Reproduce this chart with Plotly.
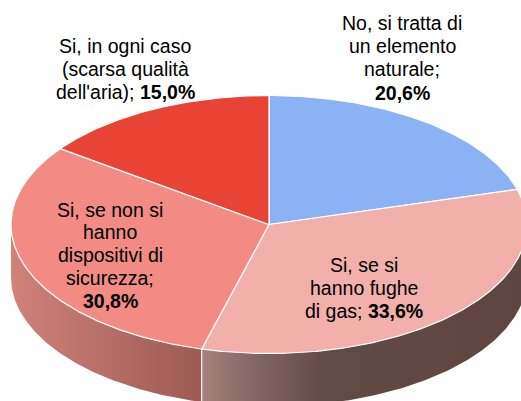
import numpy as np
import plotly.graph_objects as go

categories = ["No, si tratta di un elemento naturale", "Si, se si hanno fughe di gas",
              "Si, se non si hanno dispositivi di sicurezza", "Si, in ogni caso (scarsa qualità dell'aria)"]
values = [20.6, 33.6, 30.8, 15.0]
top_colors = ["#8AB2F5", "#F2B0AB", "#F18B83", "#E94335"]

label_lines = [
    ["No, si tratta di", "un elemento", "naturale;", "<b>20,6%</b>"],
    ["Si, se si", "hanno fughe", "di gas; <b>33,6%</b>"],
    ["Si, se non si", "hanno", "dispositivi di", "sicurezza;", "<b>30,8%</b>"],
    ["Si, in ogni caso", "(scarsa qualità", "dell'aria); <b>15,0%</b>"],
]
label_x = [402, 364, 110, 125]
label_y = [[23, 46, 69, 93], [265, 288, 311], [210, 232, 255, 278, 301], [46, 69, 92]]

CX, CY, RX, RY, DEPTH = 269, 224.5, 258, 129, 53
W, H = 521, 401


def arc(a0, a1, dy=0.0):
    t = np.radians(np.linspace(a0, a1, max(int(abs(a1 - a0) * 2), 2)))
    return CX + RX * np.sin(t), CY - RY * np.cos(t) + dy


edges = np.concatenate([[0], np.cumsum(values)]) / sum(values) * 360
fig = go.Figure()

side_grad = {
    1: dict(colorscale=[[0, "#A6827C"], [0.18, "#806460"], [0.38, "#624A45"], [1, "#5E4540"]]),
    2: dict(colorscale=[[0, "#D18279"], [1, "#9C5A53"]]),
}
for i, g in side_grad.items():
    a0, a1 = max(edges[i], 90), min(edges[i + 1], 270)
    x0, y0 = arc(a0, a1)
    x1, y1 = arc(a1, a0, DEPTH)
    fig.add_trace(go.Scatter(
        x=np.r_[x0, x1], y=np.r_[y0, y1], mode="lines", fill="toself",
        fillgradient=go.scatter.Fillgradient(type="horizontal", **g),
        line=dict(width=0), hoverinfo="skip", showlegend=False))

# seam between the two visible side walls
xs, ys = arc(edges[2], edges[2])
fig.add_trace(go.Scatter(x=[xs[0], xs[0]], y=[ys[0], ys[0] + DEPTH], mode="lines",
                         line=dict(color="#FFFFFF", width=1.2), hoverinfo="skip", showlegend=False))

for i, (name, col) in enumerate(zip(categories, top_colors)):
    x, y = arc(edges[i], edges[i + 1])
    fig.add_trace(go.Scatter(
        x=np.r_[CX, x, CX], y=np.r_[CY, y, CY], mode="lines", fill="toself", fillcolor=col,
        line=dict(color="#FFFFFF", width=1.2), name=name, hoverinfo="name", showlegend=False))

for lines, lx, lys in zip(label_lines, label_x, label_y):
    for t, ly in zip(lines, lys):
        fig.add_annotation(x=lx, y=ly, text=t, showarrow=False, xanchor="center", yanchor="middle",
                           font=dict(family="Liberation Sans", size=19.5, color="#000000"))

fig.update_layout(
    width=W, height=H, margin=dict(l=0, r=0, t=0, b=0), autosize=False,
    paper_bgcolor="#FFFFFF", plot_bgcolor="#FFFFFF", showlegend=False,
    xaxis=dict(range=[0, W], visible=False, fixedrange=True),
    yaxis=dict(range=[H, 0], visible=False, fixedrange=True),
)
fig.write_html("out.html", config={"displayModeBar": False},
               post_script="document.body.style.margin='0';document.body.style.overflow='hidden';")
